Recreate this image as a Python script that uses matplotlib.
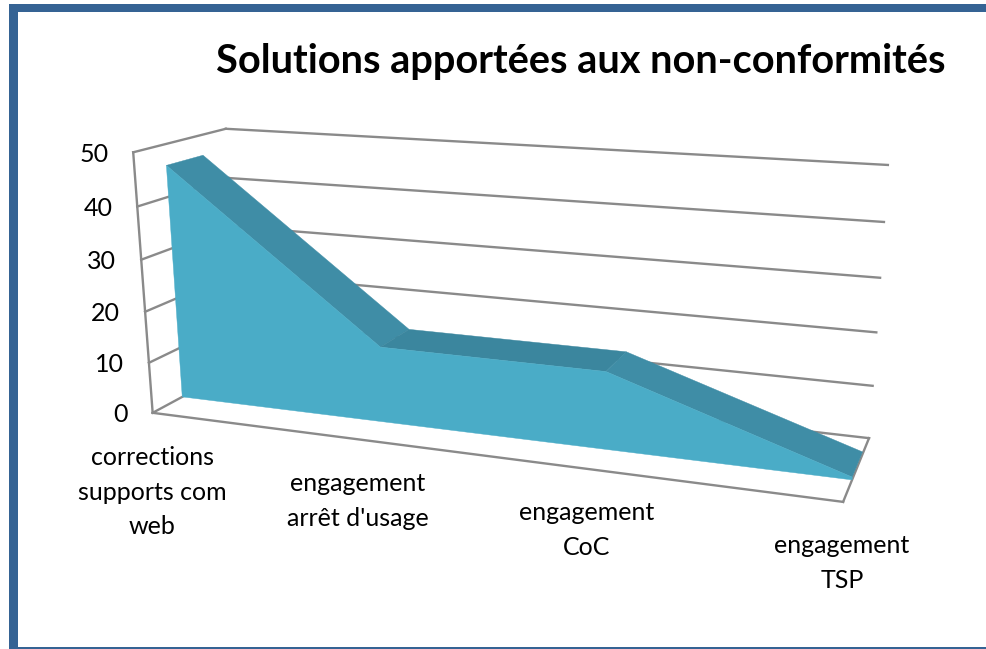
import numpy as np
import matplotlib
matplotlib.use("Agg")
import matplotlib.pyplot as plt
from matplotlib.patches import Polygon, Rectangle

title = "Solutions apportées aux non-conformités"
categories = ["corrections\nsupports com\nweb", "engagement\narrêt d'usage", "engagement\nCoC", "engagement\nTSP"]
values = [46, 14.6, 14.5, 0.5]
ticks = [0, 10, 20, 30, 40, 50]

W, H = 987, 649
FRONT, BACK = 0.32, 0.72   # depth of the area band inside the box
# calibration of the 3D box: (x fraction, depth, value) -> pixel
anchors = [((0, 0, 0), (152, 413)), ((1, 0, 0), (843, 502)), ((1, 1, 0), (869, 438)),
           ((0, 1, 0), (240, 366)), ((0, 0, 50), (134, 152)), ((0, 1, 50), (225, 129)),
           ((1, 1, 50), (888, 165))]
A, b = [], []
for (x, d, v), (px, py) in anchors:
    v = v / 50
    A.append([x, d, v, 1, 0, 0, 0, 0, -px * x, -px * d, -px * v]); b.append(px)
    A.append([0, 0, 0, 0, x, d, v, 1, -py * x, -py * d, -py * v]); b.append(py)
p = np.linalg.lstsq(np.array(A, float), np.array(b, float), rcond=None)[0]
P = np.array([p[:4], p[4:8], [p[8], p[9], p[10], 1.0]])

def proj(x, d, v):
    w = P @ np.array([x, d, v / 50, 1.0])
    return (w[0] / w[2], w[1] / w[2])

plt.rcParams['font.family'] = ['Lato', 'DejaVu Sans']
fig = plt.figure(figsize=(W / 100, H / 100), dpi=100)
ax = fig.add_axes([0, 0, 1, 1])
ax.set_xlim(0, W); ax.set_ylim(H, 0); ax.axis('off')

BORDER = '#356394'
ax.add_patch(Rectangle((9, 4), W - 9, 8, color=BORDER, lw=0))
ax.add_patch(Rectangle((9, 4), 8.5, H - 4, color=BORDER, lw=0))
ax.add_patch(Rectangle((9, 646.8), W - 9, 2.2, color=BORDER, lw=0))

GRID = '#8a8a8a'
def seg(a, b, z=2):
    ax.plot([a[0], b[0]], [a[1], b[1]], color=GRID, lw=1.7, zorder=z, solid_capstyle='projecting')

for t in ticks:
    seg(proj(0, 0, t), proj(0, 1, t))
    seg(proj(0, 1, t), proj(1, 1, t))
    fx, fy = proj(0, 0, t)
    ax.text(fx - 25, fy + 2, str(t), ha='right', va='center', fontsize=18, color='black')
seg(proj(0, 0, 0), proj(0, 0, 50))
seg(proj(0, 0, 0), proj(1, 0, 0))
seg(proj(1, 0, 0), proj(1, 1, 0))

n = len(values)
xs = [i / (n - 1) for i in range(n)]
front_top = [proj(x, FRONT, v) for x, v in zip(xs, values)]
back_top = [proj(x, BACK, v) for x, v in zip(xs, values)]
top_cols = ['#3f8da6', '#3b869e', '#3f8da6']
for i in range(n - 1):
    ax.add_patch(Polygon([front_top[i], back_top[i], back_top[i + 1], front_top[i + 1]],
                         closed=True, fc=top_cols[i], ec=top_cols[i], lw=0.3, zorder=3))
ax.add_patch(Polygon(front_top + [proj(1, FRONT, 0), proj(0, FRONT, 0)], closed=True,
                     fc='#4aacc7', ec='#4aacc7', lw=0.3, zorder=4))

cat_pos = [(152, 492), (358, 501), (587, 530), (842, 563)]
for (cx, cy), c in zip(cat_pos, categories):
    ax.text(cx, cy, c, ha='center', va='center', fontsize=18, color='black', linespacing=1.6)

ax.text(581, 62, title, ha='center', va='center', fontsize=28.6, fontweight='bold', color='black')

fig.savefig('out.png', dpi=100)
